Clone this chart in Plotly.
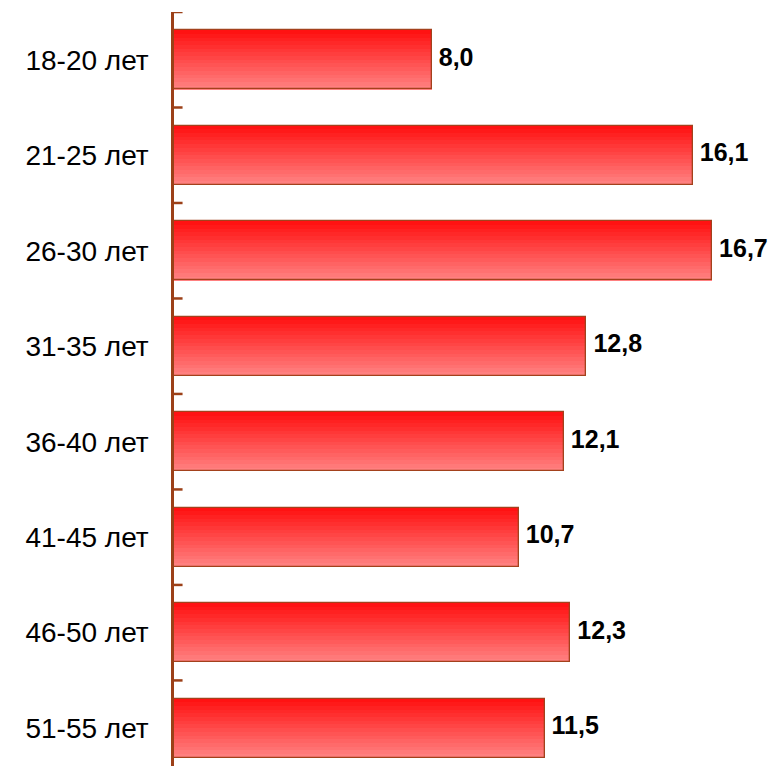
import plotly.graph_objects as go

categories = ["18-20 лет", "21-25 лет", "26-30 лет", "31-35 лет",
              "36-40 лет", "41-45 лет", "46-50 лет", "51-55 лет"]
values = [8.0, 16.1, 16.7, 12.8, 12.1, 10.7, 12.3, 11.5]
labels = ["\u00a0" + f"{v:.1f}".replace(".", ",") for v in values]

BAR_W = 0.62
N_SLICES = 16
top_rgb = (255, 18, 18)
bot_rgb = (255, 128, 128)

ypos = list(range(len(categories)))

fig = go.Figure()
for k in range(N_SLICES):
    t = k / (N_SLICES - 1)
    r = round(top_rgb[0] + (bot_rgb[0] - top_rgb[0]) * t)
    g = round(top_rgb[1] + (bot_rgb[1] - top_rgb[1]) * t)
    b = round(top_rgb[2] + (bot_rgb[2] - top_rgb[2]) * t)
    w = BAR_W / N_SLICES
    fig.add_trace(go.Bar(
        x=values, y=ypos, orientation="h",
        width=w * 1.05, offset=-BAR_W / 2 + k * w,
        marker=dict(color=f"rgb({r},{g},{b})", line=dict(width=0)),
        hoverinfo="skip", showlegend=False,
    ))

fig.add_trace(go.Bar(
    x=values, y=ypos, orientation="h",
    width=BAR_W, offset=-BAR_W / 2,
    marker=dict(color="rgba(0,0,0,0)", line=dict(color="#A3411C", width=1.3)),
    showlegend=False,
))

fig.add_trace(go.Scatter(
    x=values, y=ypos, mode="text", text=labels,
    textposition="middle right", cliponaxis=False,
    textfont=dict(family="Liberation Sans, Arial", size=25, color="black", weight="bold"),
    showlegend=False, hoverinfo="skip",
))

fig.update_layout(
    width=777, height=766,
    margin=dict(l=166, r=0, t=4, b=0),
    paper_bgcolor="white", plot_bgcolor="white",
    barmode="overlay",
    bargap=0,
    font=dict(family="Liberation Sans, Arial", size=28, color="black"),
    xaxis=dict(range=[0, 18.96], visible=False, fixedrange=True),
    yaxis=dict(
        range=[7.48, -0.5],
        tickmode="array",
        tickvals=ypos,
        ticktext=categories,
        showline=True, linecolor="#9C4018", linewidth=2.5,
        showgrid=False, zeroline=False,
        ticks="", ticklabelstandoff=17,
    ),
)

# tick marks at category boundaries
boundaries = [i - 0.5 for i in range(len(categories) + 1)]
for yb in boundaries:
    fig.add_shape(type="line", xref="paper", yref="y",
                  x0=0, x1=0.014, y0=yb, y1=yb,
                  line=dict(color="#9C4018", width=2.5))

fig.write_html("out.html")
